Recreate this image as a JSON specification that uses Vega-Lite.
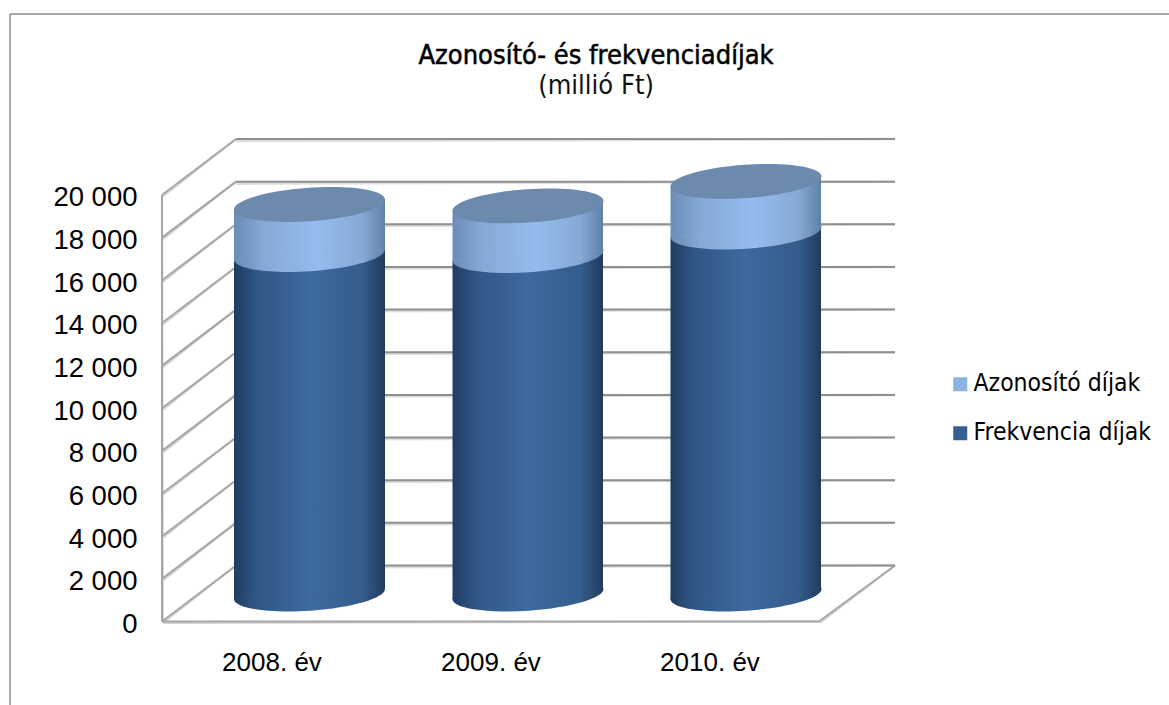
{
"$schema":"https://vega.github.io/schema/vega-lite/v6.json",
"width":1169,"height":705,"padding":0,"autosize":{"type":"none"},"background":"white",
"config":{"view":{"stroke":null},"font":"Liberation Sans"},
"datasets":{
"frame":[{"x":-1.194,"x2":-1.194,"value":-3916,"value2":28488},{"x":-1.194,"x2":4.1,"value":28488,"value2":28488}],
"grid":[
{"x":-0.5,"x2":-0.5,"value":0,"value2":20000},
{"x":-0.5,"x2":2.5,"value":0,"value2":0},
{"x":2.5,"x2":2.847,"value":0,"value2":2626},
{"x":-0.5,"x2":-0.162,"value":0,"value2":2626},
{"x":-0.5,"x2":-0.162,"value":2000,"value2":4626},{"x":-0.5,"x2":-0.162,"value":4000,"value2":6626},
{"x":-0.5,"x2":-0.162,"value":6000,"value2":8626},{"x":-0.5,"x2":-0.162,"value":8000,"value2":10626},
{"x":-0.5,"x2":-0.162,"value":10000,"value2":12626},{"x":-0.5,"x2":-0.162,"value":12000,"value2":14626},
{"x":-0.5,"x2":-0.162,"value":14000,"value2":16626},{"x":-0.5,"x2":-0.162,"value":16000,"value2":18626},
{"x":-0.5,"x2":-0.162,"value":18000,"value2":20626},{"x":-0.5,"x2":-0.162,"value":20000,"value2":22626}
],
"back":[
{"x":-0.162,"x2":2.847,"value":2626,"value2":2626},{"x":-0.162,"x2":2.847,"value":4626,"value2":4626},
{"x":-0.162,"x2":2.847,"value":6626,"value2":6626},{"x":-0.162,"x2":2.847,"value":8626,"value2":8626},
{"x":-0.162,"x2":2.847,"value":10626,"value2":10626},{"x":-0.162,"x2":2.847,"value":12626,"value2":12626},
{"x":-0.162,"x2":2.847,"value":14626,"value2":14626},{"x":-0.162,"x2":2.847,"value":16626,"value2":16626},
{"x":-0.162,"x2":2.847,"value":18626,"value2":18626},{"x":-0.162,"x2":2.847,"value":20626,"value2":20626},
{"x":-0.162,"x2":2.847,"value":22626,"value2":22626}
],
"titles":[{"label":"Azonosító- és frekvenciadíjak","x":1.482,"value":26520,"kind":"t"},{"label":"(millió Ft)","x":1.482,"value":25112,"kind":"s"}],
"segments":[
{"year":"2008","series":"Frekvencia díjak","x":-0.1712,"low":-258,"high":15662},{"year":"2008","series":"Frekvencia díjak","x":0.5183,"low":258,"high":16178},
{"year":"2009","series":"Frekvencia díjak","x":0.8274,"low":-258,"high":15612},{"year":"2009","series":"Frekvencia díjak","x":1.5137,"low":258,"high":16128},
{"year":"2010","series":"Frekvencia díjak","x":1.8228,"low":-258,"high":16717},{"year":"2010","series":"Frekvencia díjak","x":2.5091,"low":258,"high":17233},
{"year":"2008","series":"Azonosító díjak","x":-0.1712,"low":15662,"high":18007},{"year":"2008","series":"Azonosító díjak","x":0.5183,"low":16178,"high":18523},
{"year":"2009","series":"Azonosító díjak","x":0.8274,"low":15612,"high":17942},{"year":"2009","series":"Azonosító díjak","x":1.5137,"low":16128,"high":18458},
{"year":"2010","series":"Azonosító díjak","x":1.8228,"low":16717,"high":19092},{"year":"2010","series":"Azonosító díjak","x":2.5091,"low":17233,"high":19608}
],
"ends":[
{"year":"2008","end":"base","x":0.1735,"low":0},{"year":"2009","end":"base","x":1.1712,"low":0},{"year":"2010","end":"base","x":2.1667,"low":0},
{"year":"2008","end":"join","x":0.1735,"low":15920},{"year":"2009","end":"join","x":1.1712,"low":15870},{"year":"2010","end":"join","x":2.1667,"low":16975},
{"year":"2008","end":"top","x":0.1735,"low":18265},{"year":"2009","end":"top","x":1.1712,"low":18200},{"year":"2010","end":"top","x":2.1667,"low":19350}
]
},
"encoding":{"x":{"field":"x","type":"quantitative","scale":{"domain":[-1.2397,4.0982],"nice":false,"zero":false},
"axis":{"values":[0,1,2],"grid":false,"domain":false,"ticks":false,"title":null,"offset":-50,"labelPadding":7,"labelBaseline":"middle","labelFont":"Liberation Sans","labelFontSize":26,"labelColor":"#000","labelExpr":"datum.value==0?'2008. év':datum.value==1?'2009. év':'2010. év'"}}},
"layer":[
{"encoding":{"y":{"field":"value","type":"quantitative","scale":{"domain":[-3916,29144],"nice":false,"zero":false},
"axis":{"values":[0,2000,4000,6000,8000,10000,12000,14000,16000,18000,20000],"grid":false,"domain":false,"ticks":false,"title":null,"offset":-148,"labelPadding":11,"labelOffset":3,"labelFont":"Liberation Sans","labelFontSize":27.5,"labelColor":"#000","labelExpr":"replace(format(datum.value,','),',',' ')"}},
"y2":{"field":"value2"},"x2":{"field":"x2"}},
"layer":[
{"data":{"name":"frame"},"mark":{"type":"rule","color":"#8c8c8c","strokeWidth":1.5}},
{"data":{"name":"grid"},"mark":{"type":"rule","color":"#d4d4d4","strokeWidth":2,"yOffset":1.5,"xOffset":1}},
{"data":{"name":"back"},"mark":{"type":"rule","color":"#dcdcdc","strokeWidth":2.5,"yOffset":2}},
{"data":{"name":"grid"},"mark":{"type":"rule","color":"#a6a6a6","strokeWidth":2}},
{"data":{"name":"back"},"mark":{"type":"rule","color":"#8f8f8f","strokeWidth":2}}
]},
{"encoding":{"y":{"field":"low","type":"quantitative","scale":{"domain":[-5205,27855],"nice":false,"zero":false},"axis":null}},
"layer":[
{"data":{"name":"ends"},"transform":[{"filter":"datum.end=='base'"}],"mark":{"type":"point","filled":true,"opacity":1,"strokeWidth":0,"size":22904,"shape":"M-0.9976 0.0698A1 0.2207 -4 1 1 0.9976 -0.0698A1 0.2207 -4 1 1 -0.9976 0.0698Z",
 "fill":{"gradient":"linear","x1":0,"x2":1,"y1":0,"y2":0,"stops":[{"offset":0,"color":"#1f3d63"},{"offset":0.15,"color":"#2f5685"},{"offset":0.5,"color":"#3d6a9f"},{"offset":0.85,"color":"#345c8c"},{"offset":1,"color":"#213b5e"}]}}},
{"data":{"name":"segments"},"transform":[{"filter":"datum.series=='Frekvencia díjak'"}],
 "mark":{"type":"area","line":false},
 "encoding":{"y2":{"field":"high"},"detail":{"field":"year"},"color":{"field":"series","type":"nominal","scale":{"domain":["Azonosító díjak","Frekvencia díjak"],"range":["#8db3e2","#376092"]},
  "legend":{"orient":"none","legendX":948,"legendY":372,"title":null,"symbolType":"square","symbolSize":196,"symbolOpacity":1,"symbolStrokeWidth":0,"labelFont":"DejaVu Sans Condensed","labelFontSize":24.5,"labelColor":"#000","labelOffset":1,"rowPadding":24,"labelLimit":300}}}},
{"data":{"name":"segments"},"transform":[{"filter":"datum.series=='Frekvencia díjak'"}],
 "mark":{"type":"area","color":{"gradient":"linear","x1":0,"x2":1,"y1":0,"y2":0,"stops":[{"offset":0,"color":"#1f3d63"},{"offset":0.15,"color":"#2f5685"},{"offset":0.5,"color":"#3d6a9f"},{"offset":0.85,"color":"#345c8c"},{"offset":1,"color":"#213b5e"}]}},
 "encoding":{"y2":{"field":"high"},"detail":{"field":"year"}}},
{"data":{"name":"ends"},"transform":[{"filter":"datum.end=='join'"}],"mark":{"type":"point","filled":true,"opacity":1,"strokeWidth":0,"size":22904,"shape":"M-0.9976 0.0698A1 0.2207 -4 1 1 0.9976 -0.0698A1 0.2207 -4 1 1 -0.9976 0.0698Z",
 "fill":{"gradient":"linear","x1":0,"x2":1,"y1":0,"y2":0,"stops":[{"offset":0,"color":"#6a8cb5"},{"offset":0.2,"color":"#86a9d6"},{"offset":0.55,"color":"#94bcee"},{"offset":0.85,"color":"#86a9d4"},{"offset":1,"color":"#5f80a6"}]}}},
{"data":{"name":"segments"},"transform":[{"filter":"datum.series=='Azonosító díjak'"}],
 "mark":{"type":"area"},
 "encoding":{"y2":{"field":"high"},"detail":{"field":"year"},"color":{"field":"series","type":"nominal","scale":{"domain":["Azonosító díjak","Frekvencia díjak"],"range":["#8db3e2","#376092"]}}}},
{"data":{"name":"segments"},"transform":[{"filter":"datum.series=='Azonosító díjak'"}],
 "mark":{"type":"area","color":{"gradient":"linear","x1":0,"x2":1,"y1":0,"y2":0,"stops":[{"offset":0,"color":"#6a8cb5"},{"offset":0.2,"color":"#86a9d6"},{"offset":0.55,"color":"#94bcee"},{"offset":0.85,"color":"#86a9d4"},{"offset":1,"color":"#5f80a6"}]}},
 "encoding":{"y2":{"field":"high"},"detail":{"field":"year"}}},
{"data":{"name":"ends"},"transform":[{"filter":"datum.end=='top'"}],"mark":{"type":"point","filled":true,"opacity":1,"strokeWidth":0,"size":22904,"color":"#6c89ae","shape":"M-0.9976 0.0698A1 0.2207 -4 1 1 0.9976 -0.0698A1 0.2207 -4 1 1 -0.9976 0.0698Z"}}
],"resolve":{"scale":{"y":"shared"}}},
{"data":{"name":"titles"},"encoding":{"y":{"field":"value","type":"quantitative","scale":{"domain":[-3916,29144],"nice":false,"zero":false},"axis":null},"text":{"field":"label"}},
"layer":[
{"transform":[{"filter":"datum.kind=='t'"}],"mark":{"type":"text","font":"DejaVu Sans Condensed","fontSize":27,"color":"#000","stroke":"#000","strokeWidth":0.5,"align":"center","baseline":"middle"}},
{"transform":[{"filter":"datum.kind=='s'"}],"mark":{"type":"text","font":"DejaVu Sans Condensed","fontSize":27,"color":"#111","align":"center","baseline":"middle"}}
]}
],
"resolve":{"scale":{"y":"independent"}}
}
